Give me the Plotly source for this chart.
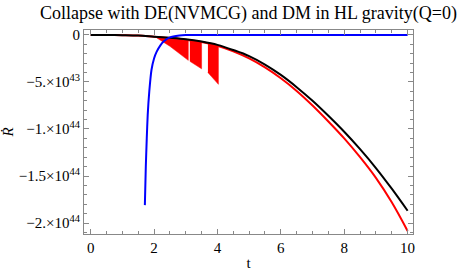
import numpy as np
import plotly.graph_objects as go

# ---- data (values in units of 1e44) ----
t_black = [0, 0.5, 1, 1.5, 2, 2.5, 3, 3.5, 4, 4.5, 5, 5.5, 6, 6.5, 7, 7.5, 8, 8.5, 9, 9.5, 10]
black_vals = [0, -0.0005, -0.002, -0.006, -0.018, -0.03, -0.045, -0.07, -0.105, -0.16, -0.225,
              -0.315, -0.425, -0.555, -0.70, -0.86, -1.03, -1.215, -1.415, -1.635, -1.87]

t_red = [0, 0.5, 1, 1.5, 2, 2.5, 3, 3.5, 4, 4.5, 5, 5.5, 6, 6.5, 7, 7.5, 8, 8.5, 9, 9.5, 10]
red_vals = [0, -0.0005, -0.002, -0.006, -0.02, -0.033, -0.05, -0.075, -0.115, -0.175, -0.25,
            -0.345, -0.46, -0.595, -0.75, -0.92, -1.10, -1.30, -1.52, -1.78, -2.085]

# red oscillating band: (t, upper, lower) for each filled piece
band_t = [[2.08, 2.5, 3.08], [3.13, 3.3, 3.5], [3.7, 3.85, 4.03]]
band_up = [[-0.02, -0.033, -0.05], [-0.052, -0.06, -0.075], [-0.09, -0.10, -0.115]]
band_lo = [[-0.03, -0.12, -0.27], [-0.28, -0.32, -0.36], [-0.40, -0.46, -0.525]]

t_blue = [1.71, 1.74, 1.77, 1.80, 1.85, 1.92, 2.0, 2.08, 2.2, 2.3, 2.5, 2.8, 3.0, 10]
blue_vals = [-1.81, -1.40, -1.10, -0.85, -0.60, -0.37, -0.25, -0.18, -0.11, -0.07, -0.025, -0.005, 0, 0]

x_ticks = [0, 2, 4, 6, 8, 10]
y_tickvals = [0, -0.5, -1.0, -1.5, -2.0]
y_ticktext = ["0", "−5.×10<sup>43</sup>", "−1.×10<sup>44</sup>", "−1.5×10<sup>44</sup>", "−2.×10<sup>44</sup>"]

S = 1e44
fig = go.Figure()

for bt, bu, bl in zip(band_t, band_up, band_lo):
    xs = list(bt) + list(bt[::-1])
    ys = list(np.array(bu) * S) + list(np.array(bl[::-1]) * S)
    fig.add_trace(go.Scatter(x=xs, y=ys, fill="toself", fillcolor="red", mode="lines",
                             line=dict(color="red", width=0.5), hoverinfo="skip", showlegend=False))

fig.add_trace(go.Scatter(x=t_red, y=np.array(red_vals) * S, mode="lines", line=dict(color="red", width=2, shape="spline"), showlegend=False))
fig.add_trace(go.Scatter(x=t_black, y=np.array(black_vals) * S, mode="lines", line=dict(color="black", width=2, shape="spline"), showlegend=False))
fig.add_trace(go.Scatter(x=t_blue, y=np.array(blue_vals) * S, mode="lines", line=dict(color="blue", width=2, shape="spline", smoothing=0.6), showlegend=False))

font = "Liberation Serif"
tf = dict(family=font, size=15, color="black")
fig.update_layout(
    width=461, height=277,
    margin=dict(l=84, r=48, t=30, b=43, autoexpand=False),
    paper_bgcolor="white", plot_bgcolor="white",
    font=dict(family=font, size=15, color="black"),
    title=dict(text="Collapse with DE(NVMCG) and DM in HL gravity(Q=0)", x=0.5, xref="paper", xanchor="center",
               y=1 - 13 / 277, yref="container", yanchor="middle", font=dict(family=font, size=18, color="black")),
)
fig.update_xaxes(
    range=[-0.21, 10.17], tickvals=x_ticks, ticks="inside", ticklen=5, tickcolor="#888",
    tickfont=tf, automargin=False,
    showline=True, linecolor="#888", linewidth=1, mirror="allticks", showgrid=False, zeroline=False,
    minor=dict(dtick=0.5, tick0=0, ticks="inside", ticklen=3, tickcolor="#888"),
    title=dict(text="t", font=tf, standoff=2),
)
fig.update_yaxes(
    range=[-2.117e44, 0.053e44], tickvals=[v * S for v in y_tickvals], ticktext=y_ticktext,
    ticks="inside", ticklen=5, tickcolor="#888", tickfont=tf, automargin=False,
    showline=True, linecolor="#888", linewidth=1, mirror="allticks", showgrid=False, zeroline=False,
    minor=dict(dtick=0.1e44, tick0=0, ticks="inside", ticklen=3, tickcolor="#888"),
    title=dict(text="<i>Ṙ</i>", font=tf, standoff=2),
)

fig.write_html("out.html", config={"displayModeBar": False}, post_script="document.body.style.margin='0';")
